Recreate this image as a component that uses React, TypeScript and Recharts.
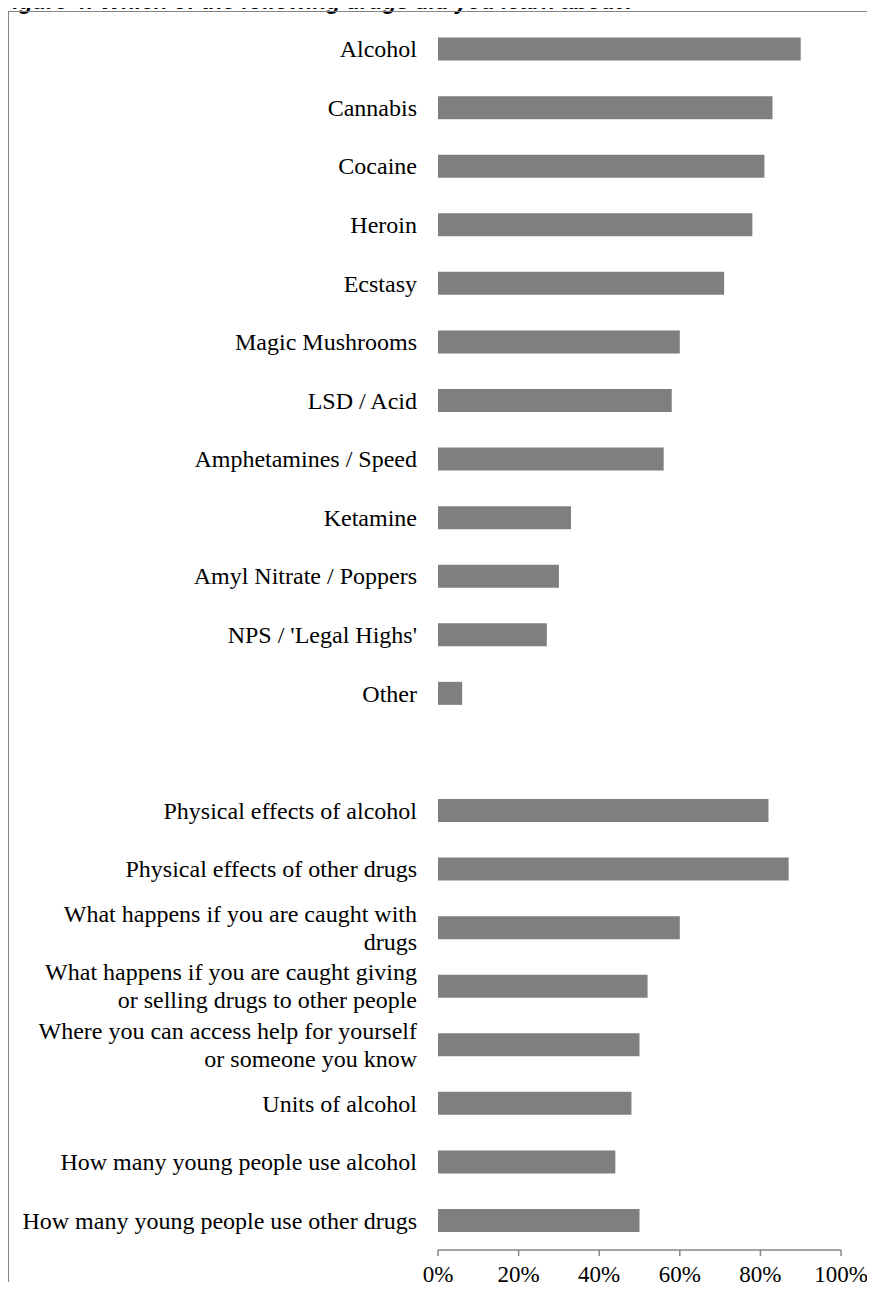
import React from "react";
import { BarChart, Bar, XAxis, YAxis } from "recharts";

// rows top to bottom; "\n" marks where the original label wraps
const categories = [
  "Alcohol",
  "Cannabis",
  "Cocaine",
  "Heroin",
  "Ecstasy",
  "Magic Mushrooms",
  "LSD / Acid",
  "Amphetamines / Speed",
  "Ketamine",
  "Amyl Nitrate / Poppers",
  "NPS / 'Legal Highs'",
  "Other",
  " ",
  "Physical effects of alcohol",
  "Physical effects of other drugs",
  "What happens if you are caught with\ndrugs",
  "What happens if you are caught giving\nor selling drugs to other people",
  "Where you can access help for yourself\nor someone you know",
  "Units of alcohol",
  "How many young people use alcohol",
  "How many young people use other drugs"
];

const percentValues = [
  90, 83, 81, 78, 71, 60, 58, 56, 33, 30, 27, 6, null,
  82, 87, 60, 52, 50, 48, 44, 50
];

const xTicks = [0, 20, 40, 60, 80, 100];

const chartData = categories.map((name, i) => ({ name, value: percentValues[i] }));
const rowEdges = categories.map((_, i) => i).concat(categories.length);

const AXIS_GREY = "#868686";
const SERIF = "'Liberation Serif', 'Times New Roman', serif";

const CategoryTick = (props: any) => {
  const { x, y, payload } = props;
  const lines = String(payload.value).split("\n");
  const lineHeight = 28;
  const start = y - ((lines.length - 1) * lineHeight) / 2;
  return (
    <text
      x={x}
      y={start}
      textAnchor="end"
      dominantBaseline="central"
      fontFamily={SERIF}
      fontSize={24}
      fill="#000"
    >
      {lines.map((line, i) => (
        <tspan key={i} x={x} y={start + i * lineHeight}>
          {line}
        </tspan>
      ))}
    </text>
  );
};

export default function App() {
  return (
    <div
      style={{
        position: "relative",
        margin: -8,
        width: 875,
        height: 1290,
        overflow: "hidden",
        background: "#fff"
      }}
    >
      {/* title sits mostly above the page edge, as in the source scan */}
      <svg
        width={875}
        height={20}
        style={{ position: "absolute", left: 0, top: 0, overflow: "visible" }}
      >
        <text
          x={-1}
          y={9}
          fontFamily="'Liberation Sans', Arial, sans-serif"
          fontWeight="bold"
          fontStyle="italic"
          fontSize={22.5}
          fill="#000"
        >
          Figure 4: Which of the following drugs did you learn about?
        </text>
      </svg>
      <div
        style={{
          position: "absolute",
          left: 8,
          top: 11,
          width: 900,
          height: 1320,
          border: `1.5px solid ${AXIS_GREY}`
        }}
      />
      <div style={{ position: "absolute", left: 0, top: 0 }}>
        <BarChart
          width={875}
          height={1290}
          data={chartData}
          layout="vertical"
          margin={{ top: 20, right: 34, bottom: 10, left: 0 }}
          barCategoryGap="30%"
        >
          <YAxis
            yAxisId="edges"
            type="number"
            orientation="left"
            domain={[0, categories.length]}
            ticks={rowEdges}
            width={0}
            tickSize={6}
            tick={() => <g />}
            axisLine={{ stroke: AXIS_GREY, strokeWidth: 1.5 }}
            tickLine={{ stroke: AXIS_GREY, strokeWidth: 1.5 }}
            allowDataOverflow
          />
          <YAxis
            yAxisId="cats"
            type="category"
            dataKey="name"
            width={438}
            axisLine={false}
            tickLine={false}
            tickSize={0}
            tickMargin={21}
            interval={0}
            tick={<CategoryTick />}
          />
          <XAxis
            type="number"
            domain={[0, 100]}
            ticks={xTicks}
            tickFormatter={(v: number) => `${v}%`}
            height={30}
            tickSize={6}
            tickMargin={10}
            axisLine={{ stroke: AXIS_GREY, strokeWidth: 1.5 }}
            tickLine={{ stroke: AXIS_GREY, strokeWidth: 1.5 }}
            tick={{ fontFamily: SERIF, fontSize: 23, fill: "#000" }}
          />
          <Bar
            yAxisId="cats"
            dataKey="value"
            fill="#7f7f7f"
            isAnimationActive={false}
          />
        </BarChart>
      </div>
    </div>
  );
}
